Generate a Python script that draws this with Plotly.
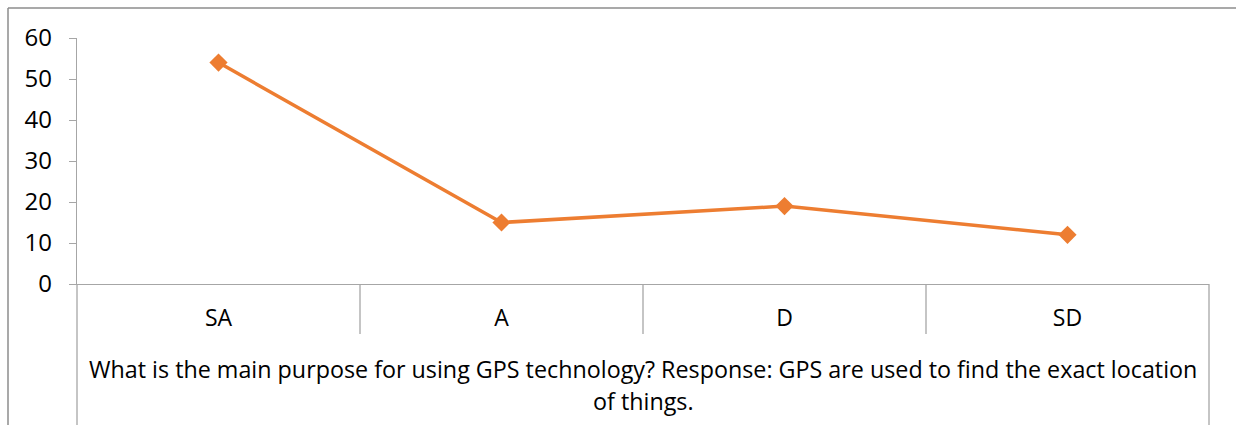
import plotly.graph_objects as go

# Survey responses for the GPS-purpose question
categories = ["SA", "A", "D", "SD"]
responses = [54, 15, 19, 12]
y_ticks = [0, 10, 20, 30, 40, 50, 60]
caption_lines = [
    "What is the main purpose for using GPS technology? Response: GPS are used to find the exact location",
    "of things.",
]

W, H = 1236, 425
L, R, T, B = 77, 27, 38, 141
plot_w = W - L - R
plot_h = H - T - B


def px_x(x):
    return (x - L) / plot_w


def px_y(y):
    return (H - B - y) / plot_h


ORANGE = "#ED7D31"
GRID = "#A6A6A6"
FONT = "'Open Sans', Lato, sans-serif"

fig = go.Figure()
fig.add_trace(go.Scatter(
    x=categories,
    y=responses,
    mode="lines+markers",
    line=dict(color=ORANGE, width=3.5),
    marker=dict(symbol="diamond", size=14, color=ORANGE),
    hoverinfo="x+y",
    showlegend=False,
))

shapes = []
# separators between categories below the axis
for xv in [0.5, 1.5, 2.5]:
    shapes.append(dict(type="line", xref="x", yref="paper",
                       x0=xv, x1=xv, y0=0, y1=px_y(334),
                       line=dict(color=GRID, width=1.3)))
# outer verticals of the category table
for xp in [0, 1]:
    shapes.append(dict(type="line", xref="paper", yref="paper",
                       x0=xp, x1=xp, y0=0, y1=px_y(H + 5),
                       line=dict(color=GRID, width=1.3)))
# chart frame (top and left edges)
shapes.append(dict(type="line", xref="paper", yref="paper",
                   x0=px_x(8), x1=px_x(W + 5), y0=px_y(8), y1=px_y(8),
                   line=dict(color="#8C8C8C", width=1.5)))
shapes.append(dict(type="line", xref="paper", yref="paper",
                   x0=px_x(8), x1=px_x(8), y0=px_y(8), y1=px_y(H + 5),
                   line=dict(color="#8C8C8C", width=1.5)))

annotations = []
for line_text, yc in zip(caption_lines, [369, 401]):
    annotations.append(dict(xref="paper", yref="paper", x=0.5, y=px_y(yc),
                            text=line_text, showarrow=False,
                            xanchor="center", yanchor="middle",
                            font=dict(family=FONT, size=23.3, color="#000000")))

fig.update_layout(
    width=W, height=H,
    margin=dict(l=L, r=R, t=T, b=B, pad=0),
    paper_bgcolor="white",
    plot_bgcolor="white",
    font=dict(family=FONT, size=23, color="#000000"),
    shapes=shapes,
    annotations=annotations,
    xaxis=dict(
        type="category",
        range=[-0.5, 3.5],
        showgrid=False,
        showline=True, linecolor=GRID, linewidth=1.3,
        ticks="", tickfont=dict(size=23),
        ticklabelstandoff=13,
        zeroline=False,
        fixedrange=True,
    ),
    yaxis=dict(
        range=[0, 60],
        tickvals=y_ticks,
        showgrid=False,
        showline=True, linecolor=GRID, linewidth=1.3,
        ticks="outside", ticklen=7, tickcolor=GRID, tickwidth=1.3,
        tickfont=dict(size=24),
        ticklabelstandoff=12,
        zeroline=False,
        fixedrange=True,
    ),
)

fig.write_html("out.html", config={"displayModeBar": False})
